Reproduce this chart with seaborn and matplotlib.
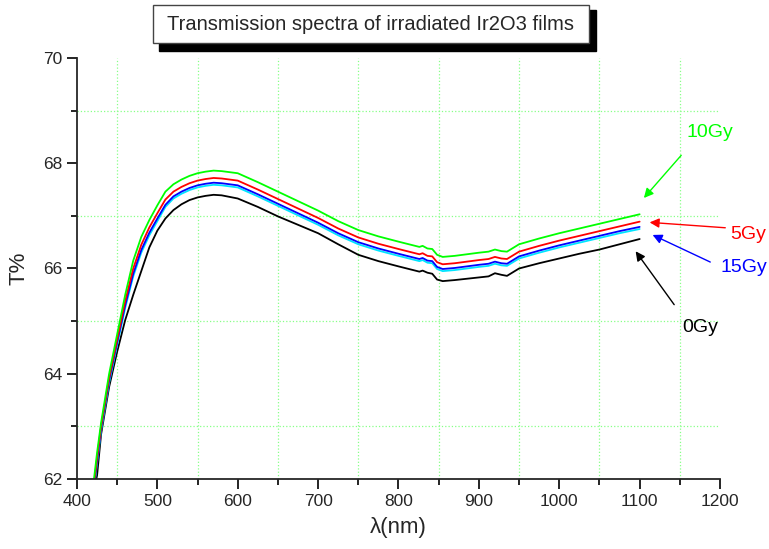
import pandas as pd
import seaborn as sns
import matplotlib.pyplot as plt
from matplotlib.patches import Rectangle
from matplotlib.ticker import MultipleLocator

# wavelength grid (nm) and transmission (%)
wavelength = [420, 425, 430, 440, 450, 460, 470, 480, 490, 500,
              510, 520, 530, 540, 550, 560, 570, 580, 590, 600,
              625, 650, 675, 700, 725, 750, 775, 800,
              826, 830, 836, 842, 848, 855, 870,
              900, 912, 920, 928, 935, 950,
              975, 1000, 1025, 1050, 1075, 1100]

t_10gy = [61.85, 62.5, 63.07, 64.0, 64.75, 65.5, 66.15, 66.6, 66.92, 67.2,
          67.46, 67.6, 67.69, 67.76, 67.81, 67.84, 67.86, 67.85, 67.83, 67.81,
          67.64, 67.46, 67.28, 67.1, 66.9, 66.73, 66.61, 66.51,
          66.41, 66.43, 66.38, 66.37, 66.26, 66.22, 66.24,
          66.3, 66.32, 66.36, 66.33, 66.32, 66.46,
          66.57, 66.67, 66.76, 66.85, 66.94, 67.03]

t_5gy = [61.75, 62.4, 63.0, 63.92, 64.65, 65.38, 66.0, 66.45, 66.78, 67.05,
         67.31, 67.46, 67.55, 67.62, 67.67, 67.7, 67.72, 67.71, 67.69, 67.67,
         67.5, 67.32, 67.14, 66.96, 66.76, 66.59, 66.47, 66.37,
         66.27, 66.29, 66.24, 66.23, 66.12, 66.08, 66.1,
         66.16, 66.18, 66.22, 66.19, 66.18, 66.32,
         66.43, 66.53, 66.62, 66.71, 66.8, 66.89]

t_15gy = [61.7, 62.35, 62.97, 63.88, 64.6, 65.3, 65.9, 66.35, 66.68, 66.95,
          67.21, 67.37, 67.46, 67.53, 67.58, 67.61, 67.63, 67.62, 67.6, 67.58,
          67.41, 67.23, 67.05, 66.87, 66.67, 66.5, 66.38, 66.28,
          66.18, 66.2, 66.15, 66.14, 66.03, 65.99, 66.01,
          66.07, 66.09, 66.13, 66.1, 66.09, 66.23,
          66.34, 66.44, 66.53, 66.62, 66.71, 66.79]

t_cyan = [61.66, 62.3, 62.92, 63.83, 64.55, 65.25, 65.85, 66.3, 66.63, 66.9,
          67.17, 67.33, 67.42, 67.49, 67.54, 67.57, 67.59, 67.58, 67.56, 67.54,
          67.37, 67.19, 67.01, 66.83, 66.63, 66.46, 66.34, 66.24,
          66.14, 66.16, 66.11, 66.1, 65.99, 65.95, 65.97,
          66.03, 66.05, 66.09, 66.06, 66.05, 66.19,
          66.3, 66.4, 66.49, 66.58, 66.67, 66.75]

t_0gy = [61.7, 62.07, 62.85, 63.75, 64.42, 65.02, 65.5, 65.95, 66.4, 66.72,
         66.95, 67.11, 67.22, 67.3, 67.35, 67.38, 67.4, 67.39, 67.36, 67.33,
         67.17, 66.99, 66.83, 66.67, 66.46, 66.26, 66.14, 66.04,
         65.94, 65.96, 65.92, 65.9, 65.79, 65.76, 65.78,
         65.83, 65.85, 65.91, 65.88, 65.86, 66.0,
         66.1, 66.19, 66.28, 66.36, 66.46, 66.56]

series = {'0Gy': t_0gy, 'cyan': t_cyan, '15Gy': t_15gy, '5Gy': t_5gy, '10Gy': t_10gy}
colors = {'0Gy': 'black', 'cyan': '#00e5ff', '15Gy': 'blue', '5Gy': 'red', '10Gy': '#00ff00'}

df = pd.concat([pd.DataFrame({'wavelength': wavelength, 'T': v, 'dose': k})
                for k, v in series.items()])

sns.set_style('ticks')
plt.rcParams['font.family'] = ['Liberation Sans', 'DejaVu Sans']

fig = plt.figure(figsize=(7.69, 5.49), dpi=100)
ax = fig.add_axes([0.1001, 0.1275, 0.8362, 0.7669])

sns.lineplot(data=df, x='wavelength', y='T', hue='dose', hue_order=list(series),
             palette=colors, sort=False, legend=False, linewidth=1.3, ax=ax)

ax.set_xlim(400, 1200)
ax.set_ylim(62, 70)
ax.xaxis.set_major_locator(MultipleLocator(100))
ax.xaxis.set_minor_locator(MultipleLocator(50))
ax.yaxis.set_major_locator(MultipleLocator(2))
ax.yaxis.set_minor_locator(MultipleLocator(1))
ax.grid(False)
ax.grid(which='minor', color='#88ff88', linestyle=':', linewidth=0.9)
sns.despine(ax=ax)
for s in ['left', 'bottom']:
    ax.spines[s].set_linewidth(1.3)
ax.tick_params(which='major', length=7, width=1.2, labelsize=12.5, color='black')
ax.tick_params(which='minor', length=4, width=1.2, color='black')

ax.set_xlabel('λ(nm)', fontsize=16, labelpad=6)
ax.set_ylabel('T%', fontsize=16, labelpad=10)

# dose labels with arrows
arrow = dict(arrowstyle='-|>', lw=1, mutation_scale=14)
ax.annotate('', xy=(1103, 67.30), xytext=(1154, 68.19), annotation_clip=False,
            arrowprops=dict(arrow, color='#00ff00'))
ax.text(1188, 68.59, '10Gy', color='#00ff00', fontsize=14, ha='center', va='center', clip_on=False)
ax.annotate('', xy=(1109, 66.88), xytext=(1210, 66.77), annotation_clip=False,
            arrowprops=dict(arrow, color='red'))
ax.text(1235, 66.64, '5Gy', color='red', fontsize=14, ha='center', va='center', clip_on=False)
ax.annotate('', xy=(1113, 66.66), xytext=(1191, 66.10), annotation_clip=False,
            arrowprops=dict(arrow, color='blue'))
ax.text(1230, 66.01, '15Gy', color='blue', fontsize=14, ha='center', va='center', clip_on=False)
ax.annotate('', xy=(1093, 66.37), xytext=(1145, 65.27), annotation_clip=False,
            arrowprops=dict(arrow, color='black'))
ax.text(1175, 64.87, '0Gy', color='black', fontsize=14, ha='center', va='center', clip_on=False)

# title box with drop shadow
fig.add_artist(Rectangle((0.2068, 0.9077), 0.5683, 0.0741, transform=fig.transFigure,
                         facecolor='black', edgecolor='black'))
fig.add_artist(Rectangle((0.199, 0.9211), 0.567, 0.0703, transform=fig.transFigure,
                         facecolor='white', edgecolor='#444444', linewidth=1))
fig.text(0.482, 0.9545, 'Transmission spectra of irradiated Ir2O3 films',
         fontsize=14.5, ha='center', va='center')

fig.savefig('out.png', dpi=100)
